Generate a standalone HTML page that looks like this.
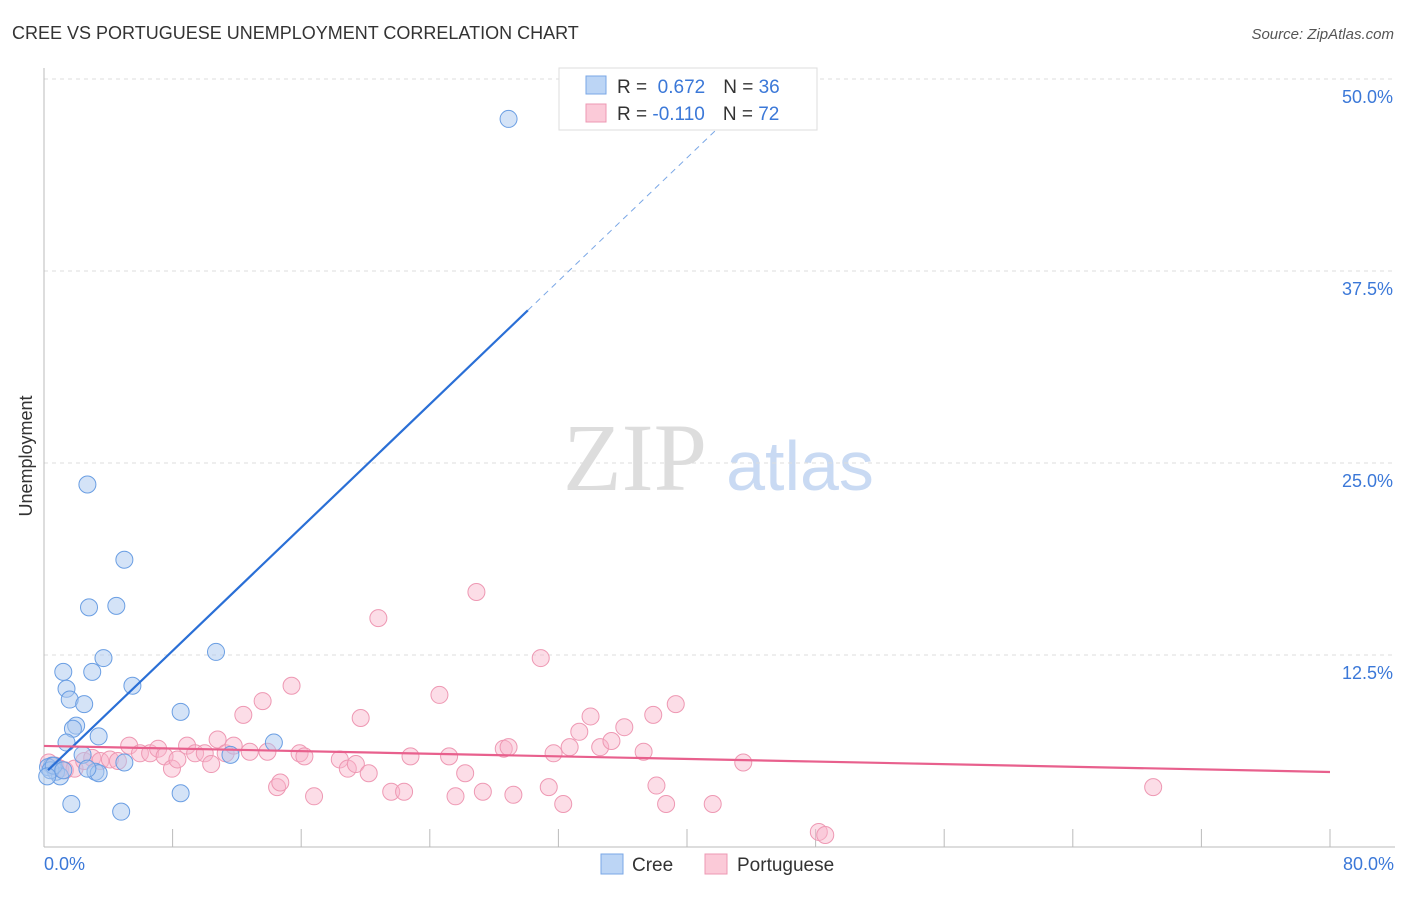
<!DOCTYPE html>
<html><head><meta charset="utf-8"><style>
body{margin:0;background:#fff;font-family:"Liberation Sans",sans-serif;}
</style></head><body>
<svg width="1406" height="892" xmlns="http://www.w3.org/2000/svg" font-family="Liberation Sans, sans-serif">
<text x="12" y="39" font-size="18" fill="#333">CREE VS PORTUGUESE UNEMPLOYMENT CORRELATION CHART</text>
<text x="1394" y="39" font-size="15" fill="#555" font-style="italic" text-anchor="end">Source: ZipAtlas.com</text>
<text x="32" y="456" font-size="18" fill="#333" transform="rotate(-90 32 456)" text-anchor="middle">Unemployment</text>
<text x="635" y="490" font-size="96" fill="#ddd" font-family="Liberation Serif, serif" text-anchor="middle">ZIP</text>
<text x="800" y="490" font-size="70" fill="#c9daf3" text-anchor="middle">atlas</text>
<g id="grid"></g>
<line x1="44" y1="68" x2="44" y2="847" stroke="#bbb"/>
<line x1="44" y1="847" x2="1395" y2="847" stroke="#bbb"/>
<g id="ticks"></g>
<text x="44" y="870" font-size="18" fill="#3b78d8">0.0%</text>
<text x="1394" y="870" font-size="18" fill="#3b78d8" text-anchor="end">80.0%</text>
<g id="pts"></g>
<g id="lines"></g>
<g>
<rect x="559" y="68" width="258" height="62" fill="#fff" stroke="#ddd"/>
<rect x="586" y="76" width="20" height="18" fill="#bcd5f5" stroke="#7aa7e6"/>
<rect x="586" y="104" width="20" height="18" fill="#fbcad8" stroke="#ee98b3"/>
<text x="617" y="93" font-size="19" fill="#333">R = <tspan fill="#3b78d8">&#160;0.672</tspan><tspan dx="18">N = </tspan><tspan fill="#3b78d8">36</tspan></text>
<text x="617" y="120" font-size="19" fill="#333">R = <tspan fill="#3b78d8">-0.110</tspan><tspan dx="18">N = </tspan><tspan fill="#3b78d8">72</tspan></text>
</g>
<g>
<rect x="601" y="854" width="22" height="20" fill="#bcd5f5" stroke="#7aa7e6"/>
<text x="632" y="871" font-size="19" fill="#333">Cree</text>
<rect x="705" y="854" width="22" height="20" fill="#fbcad8" stroke="#ee98b3"/>
<text x="737" y="871" font-size="19" fill="#333">Portuguese</text>
</g>
</svg>
<script>
const yTicks=[12.5,25,37.5,50];
const yTickLabels=["12.5%","25.0%","37.5%","50.0%"];
const xTicks=[0,8,16,24,32,40,48,56,64,72,80];
const creeX=[28.9,2.7,5.0,2.8,4.5,3.7,10.7,1.2,3.0,1.4,5.5,1.6,2.5,8.5,2.0,1.8,3.4,1.4,14.3,2.4,11.6,5.0,0.5,0.25,0.75,1.0,3.2,3.4,8.5,1.7,4.8,0.4,0.6,2.7,1.2,0.2];
const creeY=[47.4,23.6,18.7,15.6,15.7,12.3,12.7,11.4,11.4,10.3,10.5,9.6,9.3,8.8,7.9,7.7,7.2,6.8,6.8,6.0,6.0,5.5,5.3,5.2,4.9,4.6,4.9,4.8,3.5,2.8,2.3,5.0,5.3,5.1,5.0,4.6];
const portX=[0.3,0.7,1.0,1.3,1.9,2.5,3.0,3.5,4.1,4.6,5.3,5.97,6.6,7.1,7.5,7.96,8.3,8.9,9.4,10.0,10.4,10.8,11.3,11.8,12.4,12.8,13.6,13.9,14.5,14.7,15.4,15.9,16.2,16.8,18.4,18.9,19.4,19.7,20.2,20.8,21.6,22.4,22.8,24.6,25.2,25.6,26.2,26.9,27.3,28.6,28.9,29.2,30.9,31.4,31.7,32.3,32.7,33.3,34.0,34.6,35.3,36.1,37.3,37.9,38.1,38.7,39.3,41.6,43.5,69.0,48.2,48.6];
const portY=[5.5,5.3,5.1,5.0,5.1,5.6,5.8,5.6,5.7,5.6,6.6,6.1,6.1,6.4,5.9,5.1,5.7,6.6,6.1,6.1,5.4,7.0,6.1,6.6,8.6,6.2,9.5,6.2,3.9,4.2,10.5,6.1,5.9,3.3,5.7,5.1,5.4,8.4,4.8,14.9,3.6,3.6,5.9,9.9,5.9,3.3,4.8,16.6,3.6,6.4,6.5,3.4,12.3,3.9,6.1,2.8,6.5,7.5,8.5,6.5,6.9,7.8,6.2,8.6,4.0,2.8,9.3,2.8,5.5,3.9,0.98,0.78];
const X=v=>44+v*16.075, Y=v=>847-v*15.36;
const NS="http://www.w3.org/2000/svg";
function mk(t,a,p){const e=document.createElementNS(NS,t);for(const k in a)e.setAttribute(k,a[k]);p.appendChild(e);return e;}
const grid=document.getElementById('grid');
yTicks.forEach((v,i)=>{
 const l=mk('line',{x1:44,x2:1395,y1:Y(v),y2:Y(v),stroke:'#ddd','stroke-dasharray':'4,4'},grid);
 
 
 const t=mk('text',{x:1393,y:Y(v)+24,'font-size':18,fill:'#3b78d8','text-anchor':'end'},grid);
 t.textContent=yTickLabels[i];
 
 
});
const tk=document.getElementById('ticks');
xTicks.forEach(v=>{
 const l=mk('line',{x1:X(v),x2:X(v),y1:829,y2:847,stroke:'#bbb'},tk);
 
 
});
const pts=document.getElementById('pts');
portX.forEach((x,i)=>{
 const c=mk('circle',{cx:X(x),cy:Y(portY[i]),r:8.5,fill:'rgba(248,180,202,0.45)',stroke:'#ee98b3','stroke-width':1},pts);
 
 
});
creeX.forEach((x,i)=>{
 const c=mk('circle',{cx:X(x),cy:Y(creeY[i]),r:8.5,fill:'rgba(170,200,240,0.5)',stroke:'#6a9ee3','stroke-width':1},pts);
 
 
});
const ln=document.getElementById('lines');
const bf=x=>4.75+1.003*x, pf=x=>6.58-0.0212*x;
let a=mk('line',{x1:X(0.25),y1:Y(bf(0.25)),x2:X(30.1),y2:Y(bf(30.1)),stroke:'#2a6fd6','stroke-width':2.2},ln);


a=mk('line',{x1:X(30.1),y1:Y(bf(30.1)),x2:X(42.7),y2:Y(bf(42.7)),stroke:'#7aa7e6','stroke-width':1,'stroke-dasharray':'6,5'},ln);


a=mk('line',{x1:X(0),y1:Y(pf(0)),x2:X(80),y2:Y(pf(80)),stroke:'#e8608d','stroke-width':2.2},ln);


</script>
</body></html>
